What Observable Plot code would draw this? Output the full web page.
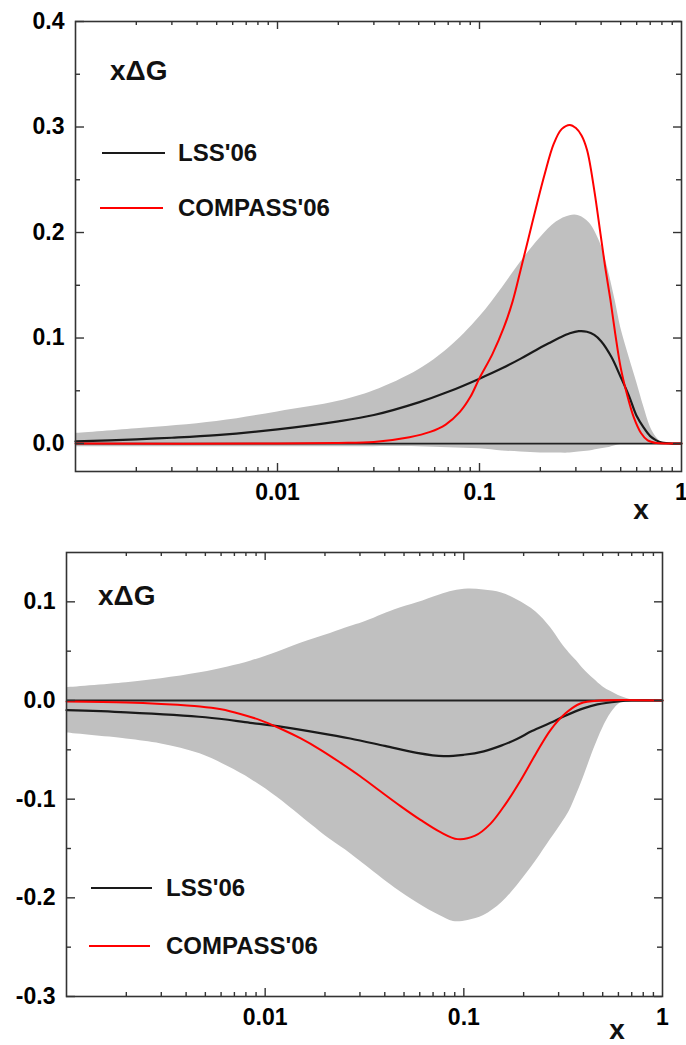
<!DOCTYPE html>
<html><head><meta charset="utf-8">
<script src="https://cdn.jsdelivr.net/npm/d3@7"></script>
<script src="https://cdn.jsdelivr.net/npm/@observablehq/plot@0.6"></script>
<style>
body{margin:0;background:#fff;}
#wrap{width:686px;height:1045px;}
#wrap svg{display:block;overflow:visible;}
</style></head><body><div id="wrap"></div>
<script>
// ---------- Top panel data ----------
const topBandX  = [0.001,0.002,0.005,0.01,0.02,0.03,0.05,0.07,0.1,0.13,0.16,0.2,0.24,0.28,0.31,0.35,0.4,0.43,0.47,0.5,0.55,0.6,0.65,0.7,0.75,0.8,0.9,1];
const topBandHi = [0.0095,0.014,0.021,0.030,0.040,0.050,0.070,0.090,0.120,0.148,0.172,0.195,0.210,0.216,0.216,0.209,0.188,0.167,0.135,0.110,0.082,0.058,0.035,0.016,0.006,0.001,0,0];
const topBandLo = [-0.003,-0.003,-0.003,-0.003,-0.003,-0.003,-0.003,-0.004,-0.005,-0.007,-0.008,-0.009,-0.009,-0.009,-0.008,-0.007,-0.005,-0.004,-0.002,-0.001,0,0,0,0,0,0,0,0];

const topLssX = [0.001,0.002,0.003,0.005,0.01,0.02,0.03,0.05,0.07,0.1,0.13,0.16,0.19,0.22,0.25,0.28,0.31,0.34,0.37,0.4,0.45,0.5,0.55,0.6,0.65,0.7,0.75,0.8,0.9,1];
const topLssY = [0.002,0.004,0.0055,0.008,0.0135,0.021,0.027,0.039,0.049,0.0615,0.0715,0.0805,0.0885,0.095,0.1005,0.1045,0.1065,0.106,0.103,0.097,0.082,0.063,0.045,0.026,0.015,0.007,0.003,0.001,0,0];

const topCompassX = [0.001,0.01,0.02,0.03,0.045,0.057,0.068,0.08,0.09,0.1,0.116,0.132,0.146,0.16,0.175,0.193,0.21,0.233,0.255,0.28,0.3,0.32,0.341,0.37,0.397,0.42,0.445,0.47,0.5,0.54,0.58,0.63,0.68,0.75,0.85,1];
const topCompassY = [0,0,0.0005,0.0015,0.006,0.011,0.018,0.030,0.044,0.062,0.085,0.110,0.135,0.165,0.195,0.228,0.255,0.284,0.298,0.302,0.299,0.292,0.278,0.240,0.199,0.166,0.136,0.104,0.072,0.045,0.025,0.010,0.003,0.0005,0,0];

// ---------- Bottom panel data ----------
const botBandX  = [0.001,0.002,0.003,0.0047,0.0065,0.0085,0.0115,0.0151,0.0213,0.0268,0.031,0.045,0.0582,0.0756,0.0886,0.105,0.126,0.155,0.185,0.23,0.273,0.31,0.34,0.37,0.40,0.45,0.5,0.55,0.6,0.66,0.75,1];
const botBandHi = [0.013,0.018,0.022,0.028,0.034,0.040,0.049,0.058,0.068,0.075,0.079,0.092,0.099,0.107,0.111,0.113,0.112,0.109,0.102,0.090,0.074,0.058,0.048,0.040,0.032,0.022,0.014,0.009,0.005,0.002,0,0];
const botBandLo = [-0.033,-0.039,-0.044,-0.054,-0.067,-0.080,-0.098,-0.117,-0.141,-0.155,-0.165,-0.190,-0.205,-0.218,-0.224,-0.223,-0.218,-0.205,-0.188,-0.163,-0.141,-0.125,-0.112,-0.095,-0.078,-0.050,-0.028,-0.013,-0.004,0,0,0];

const botLssX = [0.001,0.002,0.005,0.0084,0.0124,0.0183,0.0268,0.04,0.058,0.079,0.1,0.126,0.153,0.185,0.22,0.273,0.32,0.4,0.47,0.6,0.7,1];
const botLssY = [-0.0098,-0.012,-0.017,-0.0226,-0.027,-0.0325,-0.0385,-0.046,-0.053,-0.0564,-0.055,-0.0515,-0.046,-0.039,-0.031,-0.0226,-0.016,-0.008,-0.004,-0.001,0,0];

const botCompassX = [0.001,0.002,0.003,0.0047,0.006,0.0075,0.0095,0.0119,0.0151,0.019,0.0239,0.0302,0.038,0.048,0.0605,0.0763,0.093,0.114,0.136,0.162,0.193,0.229,0.273,0.325,0.386,0.487,1];
const botCompassY = [-0.001,-0.002,-0.0035,-0.006,-0.0089,-0.0136,-0.0201,-0.0284,-0.0385,-0.050,-0.063,-0.077,-0.092,-0.107,-0.121,-0.1335,-0.1405,-0.137,-0.125,-0.105,-0.081,-0.055,-0.030,-0.013,-0.003,0,0];

// ---------- Ticks / labels ----------
const xLabels = [0.01, 0.1, 1];
const xMajorTicks = [0.01, 0.1];
const xMinorTicks = [0.002,0.003,0.004,0.005,0.006,0.007,0.008,0.009,0.02,0.03,0.04,0.05,0.06,0.07,0.08,0.09,0.2,0.3,0.4,0.5,0.6,0.7,0.8,0.9];
const topYMajor = [0, 0.1, 0.2, 0.3, 0.4];
const topYMinor = [0.05, 0.15, 0.25, 0.35];
const botYMajor = [-0.3, -0.2, -0.1, 0, 0.1];
const botYMinor = [-0.25, -0.15, -0.05, 0.05];
const seriesNames = ["LSS'06", "COMPASS'06"];
const seriesColors = ["#1a1a1a", "#ff0000"];
const panelTitle = "x\u0394G";
const xTitle = "x";

const FONT = "'Liberation Sans', Arial, Helvetica, sans-serif";
const AX = "#333";
const CURVE = "catmull-rom";

function rows(xs, ...cols) { return xs.map((x, i) => ({x, ...Object.fromEntries(cols.map((c, j) => ["v" + j, c[i]]))})); }

// inward ticks on all four sides (W, H = frame size in px)
function tickMarks(yMajor, yMinor, W, H) {
  const s = {stroke: AX, strokeWidth: 1.4};
  return [
    Plot.tickX(xMajorTicks, {...s, x: d => d, insetTop: H - 8}),
    Plot.tickX(xMinorTicks, {...s, x: d => d, insetTop: H - 4}),
    Plot.tickX(xMajorTicks, {...s, x: d => d, insetBottom: H - 8}),
    Plot.tickX(xMinorTicks, {...s, x: d => d, insetBottom: H - 4}),
    Plot.tickY(yMajor, {...s, y: d => d, insetRight: W - 9}),
    Plot.tickY(yMinor, {...s, y: d => d, insetRight: W - 5}),
    Plot.tickY(yMajor, {...s, y: d => d, insetLeft: W - 8}),
    Plot.tickY(yMinor, {...s, y: d => d, insetLeft: W - 5})
  ];
}

function panel(o) {
  const band = rows(o.bandX, o.bandLo, o.bandHi);
  const lss = rows(o.lssX, o.lssY);
  const comp = rows(o.compX, o.compY);
  const W = 686 - o.ml - o.mr, H = o.height - o.mt - o.mb;
  return Plot.plot({
    width: 686, height: o.height,
    marginLeft: o.ml, marginRight: o.mr, marginTop: o.mt, marginBottom: o.mb,
    style: {fontFamily: FONT, background: "white", overflow: "visible"},
    x: {type: "log", domain: [0.001, 1]},
    y: {domain: o.ydom},
    marks: [
      Plot.areaY(band, {x: "x", y1: "v0", y2: "v1", fill: "#c0c0c0", curve: CURVE}),
      Plot.ruleY([0], {stroke: "#222", strokeWidth: 1.8}),
      Plot.line(lss, {x: "x", y: "v0", stroke: seriesColors[0], strokeWidth: 2.2, curve: CURVE}),
      Plot.line(comp, {x: "x", y: "v0", stroke: seriesColors[1], strokeWidth: 2, curve: CURVE}),
      Plot.frame({stroke: AX, strokeWidth: 1.6}),
      ...tickMarks(o.yMajor, o.yMinor, W, H),
      Plot.axisX(xLabels, {anchor: "bottom", tickSize: 0, tickPadding: 12, tickFormat: d => d >= 1 ? "1" : String(d), fontSize: 23, fontWeight: "bold", label: null}),
      Plot.axisY(o.yMajor, {anchor: "left", tickSize: 0, tickPadding: 11, tickFormat: d => d.toFixed(1), fontSize: 23, fontWeight: "bold", label: null})
    ]
  });
}

function legend(svg, L) {
  const g = d3.select(svg).append("g").attr("font-family", FONT).attr("font-weight", "bold").attr("fill", "#111").attr("text-anchor", "start");
  g.append("text").attr("x", L.title[0]).attr("y", L.title[1]).attr("font-size", 28).attr("dy", "0.35em").text(panelTitle);
  seriesNames.forEach((name, i) => {
    const [x1, x2, y] = L.lines[i];
    g.append("line").attr("x1", x1).attr("x2", x2).attr("y1", y).attr("y2", y).attr("stroke", seriesColors[i]).attr("stroke-width", 1.8);
    g.append("text").attr("x", L.textX).attr("y", y).attr("dy", "0.35em").attr("font-size", 24).text(name);
  });
  g.append("text").attr("x", L.xt[0]).attr("y", L.xt[1]).attr("text-anchor", "middle").attr("font-size", 28).text(xTitle);
}

const wrap = document.getElementById("wrap");
const topPanel = panel({
  height: 520, ml: 75, mr: 5, mt: 21, mb: 49, ydom: [-0.0265, 0.4],
  bandX: topBandX, bandLo: topBandLo, bandHi: topBandHi,
  lssX: topLssX, lssY: topLssY, compX: topCompassX, compY: topCompassY,
  yMajor: topYMajor, yMinor: topYMinor
});
legend(topPanel, {title: [110, 70], textX: 178, lines: [[102, 165, 153], [100, 163, 208]], xt: [641, 519]});
wrap.appendChild(topPanel);

const botPanel = panel({
  height: 525, ml: 66, mr: 24, mt: 32, mb: 49, ydom: [-0.3, 0.15],
  bandX: botBandX, bandLo: botBandLo, bandHi: botBandHi,
  lssX: botLssX, lssY: botLssY, compX: botCompassX, compY: botCompassY,
  yMajor: botYMajor, yMinor: botYMinor
});
legend(botPanel, {title: [98, 75], textX: 166, lines: [[91, 152, 368], [89, 150, 426]], xt: [617, 519]});
wrap.appendChild(botPanel);
</script></body></html>
